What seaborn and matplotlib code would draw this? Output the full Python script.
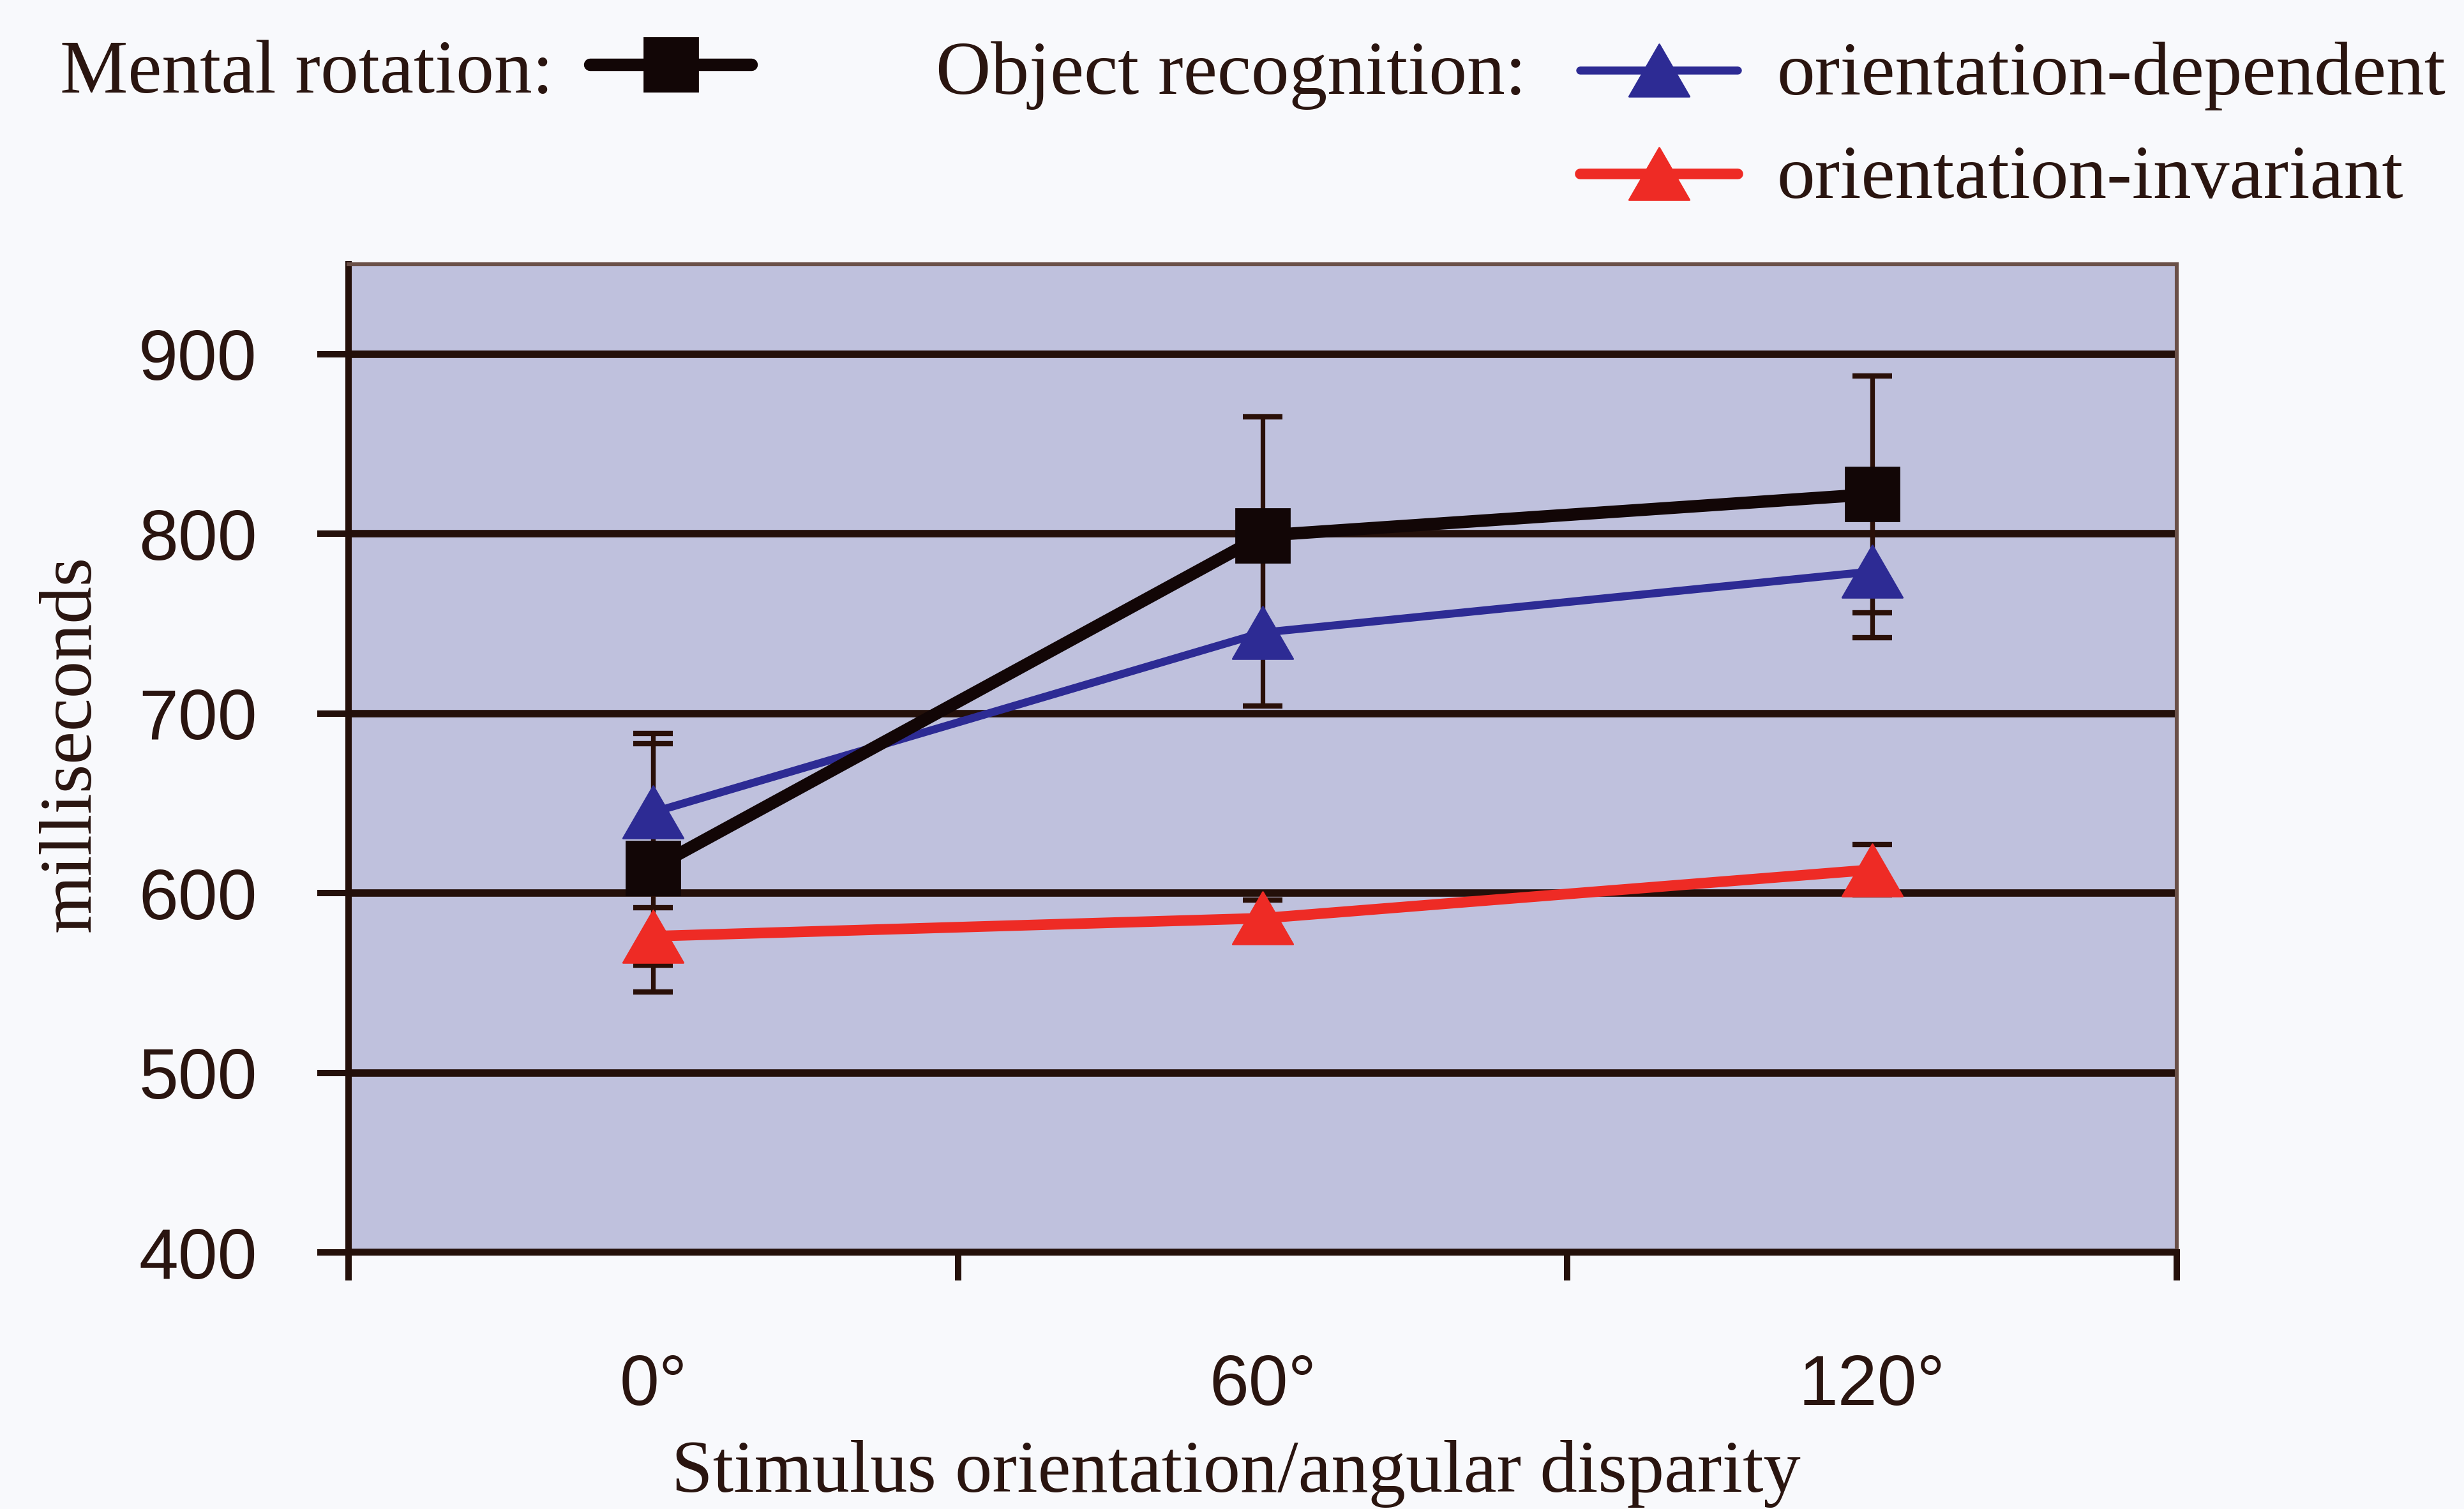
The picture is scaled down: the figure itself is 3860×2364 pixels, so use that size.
import numpy as np
import matplotlib
matplotlib.use("Agg")
import matplotlib.pyplot as plt
import seaborn as sns
from matplotlib.path import Path
from matplotlib.lines import Line2D
from matplotlib import font_manager

# ---------------- data ----------------
categories = ["0°", "60°", "120°"]
mental_rotation = [614, 799, 822]
mental_rotation_err = [69, 66, 66]
orient_dependent = [645, 745, 779]
orient_dependent_err = [44, 41, 37]
orient_invariant = [576, 586, 613]
orient_invariant_err = [16, 10, 14]
y_ticks = [400, 500, 600, 700, 800, 900]

# ---------------- style ----------------
sns.set_theme(style="white")
plt.rcParams["font.family"] = ["Liberation Serif", "DejaVu Serif"]
names = {f.name for f in font_manager.fontManager.ttflist}
tick_font = "Liberation Sans Narrow" if "Liberation Sans Narrow" in names else "Liberation Sans"
tick_size = 41.7 if tick_font == "Liberation Sans Narrow" else 40

TXT = "#2a1510"
GRID = "#24100a"
BLACK = "#120606"
BLUE = "#2d2b94"
RED = "#ee2b25"
ERR = "#2a1008"

fig = plt.figure(figsize=(19.3, 11.82), dpi=200, facecolor="#f8f9fc")
ax = fig.add_axes([0.14145, 0.17005, 0.74197, 0.65482])
ax.set_facecolor("#bfc1dd")

pos = np.arange(len(categories))
tri = Path([(0, 0.433), (-0.5, -0.433), (0.5, -0.433), (0, 0.433)],
           [Path.MOVETO, Path.LINETO, Path.LINETO, Path.CLOSEPOLY])

# error bars (behind markers)
for vals, errs in [(orient_invariant, orient_invariant_err),
                   (orient_dependent, orient_dependent_err),
                   (mental_rotation, mental_rotation_err)]:
    ax.errorbar(pos, vals, yerr=errs, fmt="none", ecolor=ERR,
                elinewidth=2.6, capsize=11, capthick=3, zorder=2)

sns.lineplot(x=pos, y=orient_invariant, ax=ax, color=RED, linewidth=6,
             marker=tri, markersize=34, markeredgecolor=RED,
             markeredgewidth=1, zorder=3, errorbar=None)
sns.lineplot(x=pos, y=orient_dependent, ax=ax, color=BLUE, linewidth=4.5,
             marker=tri, markersize=34, markeredgecolor=BLUE,
             markeredgewidth=1, zorder=4, errorbar=None)
sns.lineplot(x=pos, y=mental_rotation, ax=ax, color=BLACK, linewidth=7,
             marker="s", markersize=30, markeredgecolor=BLACK,
             markeredgewidth=1, zorder=5, errorbar=None)

# ---------------- axes ----------------
ax.set_xlim(-0.5, 2.5)
ax.set_ylim(400, 950)
ax.set_yticks(y_ticks)
ax.set_xticks(pos)
ax.set_xticklabels(categories)
ax.set_xticks([-0.5, 0.5, 1.5, 2.5], minor=True)
ax.set_xlabel("")
ax.set_ylabel("")

ax.tick_params(axis="x", which="major", length=0, pad=57, labelsize=tick_size,
               labelcolor=TXT, bottom=True)
ax.tick_params(axis="x", which="minor", length=16, width=3.6, color=GRID,
               direction="out", bottom=True)
ax.tick_params(axis="y", which="major", length=17.6, width=3.6, color=GRID,
               direction="out", left=True, pad=34, labelsize=tick_size,
               labelcolor=TXT)
for lab in ax.get_xticklabels() + ax.get_yticklabels():
    lab.set_fontfamily(tick_font)

ax.yaxis.grid(True, color=GRID, linewidth=4.2)
ax.xaxis.grid(False)
ax.set_axisbelow(True)

for side in ["left", "bottom"]:
    ax.spines[side].set_color(GRID)
    ax.spines[side].set_linewidth(3.6)
for side in ["top", "right"]:
    ax.spines[side].set_color("#6a5048")
    ax.spines[side].set_linewidth(2.2)

# ---------------- axis labels ----------------
fig.text(1936 / 3860, 1 - 2337 / 2364, "Stimulus orientation/angular disparity",
         ha="center", va="baseline", fontsize=42, color=TXT)
fig.text(113 / 3860, 1 - 1165 / 2364, "milliseconds", rotation=90,
         ha="center", va="center", fontsize=42, color=TXT)

# ---------------- legend ----------------
def fx(x):
    return x / 3860


def fy(y):
    return 1 - y / 2364


fig.text(fx(94), fy(145), "Mental rotation:", ha="left", va="baseline",
         fontsize=43, color=TXT)
fig.text(fx(1466), fy(147), "Object recognition:", ha="left", va="baseline",
         fontsize=43, color=TXT)
fig.text(fx(2783), fy(148), "orientation-dependent", ha="left", va="baseline",
         fontsize=43, color=TXT)
fig.text(fx(2783), fy(310), "orientation-invariant", ha="left", va="baseline",
         fontsize=43, color=TXT)

legend_items = [
    (924, 1177, 101, BLACK, 7, "s", 30),
    (2475, 2722, 110, BLUE, 4.5, tri, 34),
    (2475, 2722, 272, RED, 6, tri, 34),
]
for x0, x1, yy, col, lw, mk, ms in legend_items:
    fig.add_artist(Line2D([fx(x0), fx(x1)], [fy(yy), fy(yy)], color=col,
                          linewidth=lw, transform=fig.transFigure))
    fig.add_artist(Line2D([fx((x0 + x1) / 2)], [fy(yy)], color=col,
                          marker=mk, markersize=ms, markeredgecolor=col,
                          markeredgewidth=1, linestyle="none",
                          transform=fig.transFigure))

fig.savefig("out.png", dpi=200, facecolor=fig.get_facecolor())
